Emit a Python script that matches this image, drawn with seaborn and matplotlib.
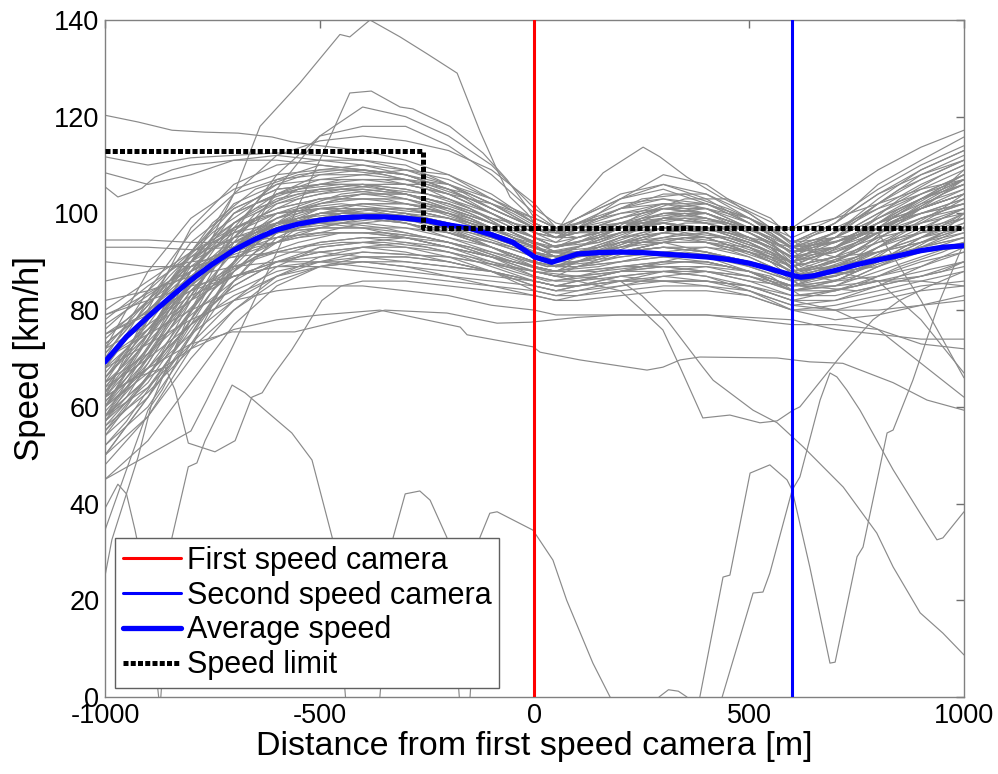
import pandas as pd
import seaborn as sns
import matplotlib
matplotlib.use('Agg')
import matplotlib.pyplot as plt

# ------------------------------------------------------------------------
# speed profiles around a section-control stretch
# ------------------------------------------------------------------------

GRID = [-1000, -900, -800, -700, -600, -500, -400, -300, -200, -100, 0,
        50, 100, 200, 300, 400, 500, 600, 700, 800, 900, 1000]

# second sampling, offset so that the runs don't all bend at the same spots
GRID_B = [-1000, -950, -850, -750, -650, -550, -450, -350, -250, -150, -50,
          30, 150, 250, 350, 450, 550, 620, 750, 850, 950, 1000]

# runs sampled on GRID, top of the bundle
upper_runs = [
    [62, 80, 97, 106, 110, 111, 111, 110, 106, 101, 97, 96, 99, 104, 106, 103, 98, 93, 96, 101, 106, 110],
    [58, 72, 88, 100, 106, 109, 110, 109, 107, 103, 98, 96, 97, 101, 104, 104, 100, 94, 98, 104, 108, 112],
    [70, 84, 96, 104, 107, 108, 108, 107, 104, 100, 96, 95, 98, 102, 103, 101, 97, 92, 95, 99, 103, 106],
    [55, 66, 82, 97, 107, 110, 109, 108, 105, 101, 97, 95, 96, 99, 102, 102, 99, 95, 99, 105, 110, 114],
    [65, 78, 92, 102, 106, 107, 107, 106, 104, 102, 99, 97, 99, 103, 105, 102, 98, 93, 94, 98, 101, 104],
    [60, 75, 90, 100, 104, 106, 107, 107, 106, 103, 99, 97, 98, 100, 101, 100, 97, 92, 94, 97, 100, 103],
    [50, 62, 78, 94, 104, 108, 109, 108, 105, 100, 95, 93, 95, 98, 100, 99, 96, 91, 95, 102, 108, 111],
    [68, 82, 94, 101, 105, 106, 106, 104, 101, 98, 95, 94, 97, 103, 108, 106, 100, 94, 97, 101, 104, 108],
    [72, 88, 99, 105, 108, 109, 109, 108, 106, 102, 97, 95, 95, 97, 99, 98, 95, 90, 92, 96, 100, 102],
    [57, 70, 86, 98, 104, 107, 108, 109, 108, 104, 98, 96, 97, 98, 98, 96, 93, 89, 93, 99, 104, 107],
    [111.7, 110, 111.5, 112, 112.5, 112, 111, 109, 106, 102, 97, 95, 96, 98, 99, 98, 95, 91, 93, 97, 101, 104],
    [108.4, 106, 108, 111, 112, 111, 110, 108, 105, 101, 97, 95, 97, 101, 103, 102, 98, 93, 96, 102, 107, 111],
    [50, 58, 72, 90, 105, 116, 122, 120, 116, 110, 101, 98, 97, 99, 101, 100, 97, 93, 95, 99, 103, 106],
    [58, 66, 80, 96, 108, 116, 118, 118, 114, 108, 100, 97, 96, 97, 98, 97, 94, 90, 93, 98, 103, 107],
    [64, 75, 90, 104, 112, 115, 116, 115, 113, 109, 102, 97, 99, 103, 106, 104, 99, 94, 98, 104, 109, 113],
    [66, 78, 92, 101, 105, 106, 106, 105, 103, 100, 96, 95, 96, 98, 98, 97, 97, 97, 103, 109, 113.7, 117.2],
    [63, 74, 88, 98, 103, 105, 106, 106, 104, 100, 96, 94, 95, 97, 98, 97, 95, 93, 98, 106, 111, 115.8],
]

# middle of the bundle
middle_runs = [
    [66, 76, 87, 94, 98, 100, 101, 101, 99, 96, 92, 90, 92, 95, 96, 95, 92, 88, 90, 94, 98, 101],
    [60, 70, 82, 92, 98, 101, 102, 101, 99, 96, 93, 91, 92, 94, 94, 92, 89, 86, 89, 93, 96, 99],
    [74, 82, 90, 95, 98, 99, 99, 98, 96, 94, 91, 90, 91, 93, 95, 96, 94, 90, 88, 89, 92, 95],
    [55, 64, 76, 88, 96, 100, 101, 100, 97, 93, 89, 88, 90, 94, 97, 97, 94, 89, 91, 96, 101, 105],
    [78, 85, 91, 95, 97, 98, 98, 97, 95, 93, 90, 89, 89, 90, 91, 91, 89, 86, 87, 90, 93, 96],
    [63, 72, 84, 93, 99, 102, 103, 103, 101, 98, 94, 92, 93, 96, 99, 99, 96, 91, 90, 92, 95, 98],
    [70, 78, 87, 94, 99, 101, 101, 99, 96, 93, 90, 89, 90, 92, 93, 92, 90, 87, 90, 95, 99, 102],
    [52, 60, 73, 86, 95, 99, 101, 101, 100, 97, 93, 91, 91, 92, 93, 93, 91, 87, 89, 92, 94, 96],
    [80, 86, 92, 96, 98, 98, 97, 95, 93, 91, 89, 88, 90, 93, 96, 97, 95, 91, 92, 95, 97, 99],
    [67, 77, 89, 96, 100, 101, 100, 98, 95, 92, 89, 88, 89, 91, 92, 91, 88, 84, 86, 90, 95, 100],
    [58, 68, 80, 90, 97, 100, 102, 102, 101, 98, 95, 93, 94, 96, 97, 95, 92, 88, 89, 91, 93, 95],
    [73, 80, 88, 93, 96, 97, 97, 97, 96, 94, 92, 91, 93, 96, 98, 96, 93, 89, 91, 96, 102, 107],
    [62, 74, 86, 94, 98, 99, 99, 98, 96, 93, 90, 89, 91, 95, 99, 100, 97, 92, 93, 96, 98, 100],
    [76, 84, 92, 97, 100, 101, 101, 100, 98, 95, 92, 90, 90, 91, 92, 93, 92, 89, 91, 94, 96, 97],
    [64, 75, 88, 97, 101, 103, 104, 104, 102, 98, 94, 92, 92, 93, 94, 94, 92, 88, 86, 87, 89, 92],
    [59, 69, 83, 95, 102, 105, 106, 105, 103, 99, 95, 93, 94, 97, 100, 100, 97, 92, 93, 97, 100, 103],
    [69, 79, 90, 97, 101, 103, 103, 102, 100, 97, 93, 91, 92, 95, 97, 96, 93, 88, 91, 97, 103, 108],
    [54, 62, 75, 89, 98, 102, 104, 104, 102, 99, 95, 93, 94, 98, 101, 101, 98, 93, 94, 98, 101, 104],
    [77, 83, 89, 93, 96, 97, 97, 96, 94, 91, 88, 87, 89, 92, 94, 94, 91, 87, 89, 93, 97, 101],
    [61, 71, 84, 93, 98, 100, 100, 99, 97, 95, 92, 91, 93, 97, 101, 102, 99, 93, 91, 92, 94, 97],
    [71, 81, 91, 98, 102, 104, 105, 104, 101, 97, 93, 92, 93, 96, 98, 97, 94, 90, 92, 96, 99, 101],
    [57, 65, 78, 90, 97, 101, 102, 102, 100, 96, 91, 89, 90, 92, 94, 94, 93, 90, 93, 98, 103, 108],
    [68, 76, 85, 92, 96, 98, 99, 98, 96, 93, 90, 89, 89, 90, 91, 90, 88, 85, 88, 93, 98, 103],
    [90, 89, 89, 91, 94, 97, 99, 100, 99, 97, 94, 93, 94, 97, 100, 101, 99, 94, 95, 100, 104, 108],
    [93, 93, 92.5, 93, 94, 96, 98, 99, 98, 96, 93, 91, 91, 92, 93, 92, 90, 87, 88, 92, 95, 97],
]

# bottom of the bundle
lower_runs = [
    [70, 76, 82, 87, 90, 92, 93, 93, 92, 90, 88, 87, 87, 88, 89, 89, 87, 84, 85, 88, 91, 94],
    [60, 67, 75, 82, 87, 90, 91, 91, 90, 88, 86, 85, 86, 88, 89, 88, 86, 83, 84, 86, 88, 90],
    [75, 79, 84, 89, 92, 94, 95, 94, 92, 89, 86, 85, 85, 87, 88, 88, 87, 85, 87, 90, 92, 93],
    [56, 63, 72, 80, 86, 89, 90, 90, 89, 88, 86, 85, 85, 86, 86, 86, 85, 82, 82, 84, 86, 88],
    [82, 84, 87, 89, 90, 90, 89, 88, 87, 86, 85, 84, 85, 87, 88, 87, 84, 80, 80, 82, 84, 85],
    [65, 71, 79, 86, 91, 94, 95, 95, 93, 90, 87, 86, 86, 87, 86, 85, 83, 80, 81, 83, 85, 86],
    [86, 88, 90, 91, 92, 92, 91, 90, 89, 88, 86, 85, 86, 88, 90, 90, 88, 84, 85, 89, 93, 97],
    [48, 58, 70, 80, 87, 91, 93, 94, 93, 91, 88, 87, 87, 88, 88, 87, 85, 82, 84, 87, 90, 92],
    [72, 77, 83, 87, 89, 89, 88, 87, 86, 85, 84, 83, 84, 86, 88, 89, 88, 85, 86, 90, 95, 99],
    [62, 68, 77, 85, 90, 93, 94, 93, 91, 88, 84, 83, 83, 84, 85, 85, 84, 81, 82, 85, 89, 93],
    [58, 64, 73, 82, 89, 93, 94, 95, 94, 91, 87, 86, 87, 89, 90, 90, 88, 84, 84, 86, 87, 89],
    [79, 82, 85, 87, 89, 90, 90, 89, 88, 87, 86, 85, 85, 86, 86, 86, 85, 83, 83, 85, 87, 90],
    [64, 70, 77, 83, 87, 89, 90, 89, 87, 85, 83, 82, 83, 85, 87, 88, 87, 84, 86, 90, 94, 97],
    [45, 53, 65, 77, 85, 89, 91, 91, 90, 88, 85, 84, 85, 86, 87, 86, 84, 81, 80, 80, 81, 83],
    [94.5, 94.5, 94, 94, 95, 96, 96, 95, 93, 91, 89, 88, 88, 89, 90, 90, 88, 85, 85, 86, 86, 85],
    [68, 73, 78, 82, 84, 85, 85, 84, 83, 81, 80, 79, 79, 79, 79, 79, 78, 77, 77, 76, 73, 72],
    [73, 80, 87, 92, 95, 96, 96, 95, 93, 91, 89, 88, 88, 89, 89, 88, 86, 85, 88, 86, 78, 67],
    [66, 75, 85, 93, 98, 100, 101, 100, 98, 95, 92, 91, 92, 94, 95, 94, 92, 90, 95, 96, 82, 66],
    [60, 68, 77, 85, 90, 92, 93, 92, 90, 88, 85, 84, 84, 85, 86, 86, 85, 82, 80, 76, 69, 62],
]

# runs sampled on GRID_B
offset_runs = [
    [63, 70, 86, 98, 105, 108, 109, 108, 106, 103, 99, 96, 99, 103, 104, 101, 97, 92, 99, 105, 109, 111],
    [57, 62, 76, 90, 100, 105, 107, 107, 105, 101, 96, 93, 95, 99, 100, 98, 94, 89, 95, 101, 105, 107],
    [71, 76, 86, 94, 99, 101, 102, 101, 100, 98, 95, 92, 94, 98, 100, 98, 94, 88, 92, 99, 104, 106],
    [52, 57, 70, 84, 95, 101, 104, 105, 104, 101, 96, 92, 91, 93, 95, 94, 91, 86, 88, 94, 99, 101],
    [66, 71, 81, 90, 96, 99, 100, 100, 99, 97, 94, 91, 92, 95, 97, 96, 93, 88, 90, 96, 101, 104],
    [60, 66, 79, 91, 99, 103, 105, 106, 106, 104, 100, 96, 96, 98, 99, 97, 93, 87, 91, 98, 104, 107],
    [75, 78, 85, 91, 95, 97, 98, 97, 95, 93, 90, 88, 89, 91, 92, 91, 89, 86, 89, 94, 98, 100],
    [54, 60, 73, 86, 94, 98, 100, 100, 98, 95, 91, 89, 90, 93, 95, 95, 92, 87, 88, 92, 96, 98],
    [68, 74, 85, 95, 101, 104, 105, 104, 102, 99, 95, 93, 94, 97, 99, 98, 96, 91, 96, 103, 108, 110],
    [61, 66, 76, 85, 91, 94, 96, 96, 95, 93, 90, 88, 88, 89, 90, 89, 87, 83, 85, 89, 92, 94],
    [79, 81, 86, 90, 93, 95, 96, 96, 95, 93, 91, 89, 91, 94, 96, 95, 92, 87, 88, 91, 93, 94],
    [58, 64, 77, 89, 97, 101, 103, 103, 101, 98, 94, 92, 93, 96, 98, 98, 95, 90, 94, 100, 105, 109],
    [65, 69, 78, 86, 91, 93, 94, 94, 93, 91, 88, 86, 87, 89, 91, 91, 89, 85, 87, 91, 96, 100],
    [50, 56, 68, 81, 91, 97, 100, 101, 101, 99, 95, 92, 92, 95, 97, 96, 93, 88, 92, 99, 104, 106],
    [72, 77, 87, 96, 102, 105, 106, 105, 103, 100, 96, 93, 95, 100, 103, 103, 99, 93, 95, 99, 101, 102],
    [56, 61, 72, 84, 92, 96, 98, 99, 98, 96, 93, 91, 92, 94, 95, 93, 90, 85, 84, 86, 88, 90],
]

# runs with their own sample positions (outliers)
peak_x = [-1000, -900, -800, -700, -639, -546, -453, -430, -383, -313, -250, -180, -127, -87,
          -57, -17, 0, 50, 100, 200, 300, 400, 500, 600, 700, 800, 900, 1000]
peak_kmh = [62, 72, 86, 104, 118, 127, 137, 136.5, 140, 136.5, 133, 129, 117, 109,
            103.4, 100, 98, 96, 95, 97, 99, 98, 95, 91, 93, 97, 101, 104]

fast_x = [-1000, -900, -800, -763, -700, -600, -500, -430, -380, -313, -283, -197, -120, -64,
          -17, 0, 50, 100, 200, 300, 400, 500, 600, 700, 800, 900, 1000]
fast_kmh = [45, 50, 55, 61.4, 73, 92, 111, 124.9, 125.3, 122, 121.6, 118, 112.5, 107,
            101.3, 99, 97, 97, 100, 102, 101, 97, 92, 94, 98, 102, 105]

high_start_x = [-1000, -923, -844, -767, -690, -611, -565, -500, -400, -300, -200, -100,
                0, 50, 100, 200, 300, 400, 500, 600, 700, 800, 900, 1000]
high_start_kmh = [120.3, 118.9, 117.2, 116.8, 116.6, 115.8, 114.8, 114, 113, 111, 108, 103,
                  98, 96, 98, 101, 102, 100, 96, 92, 95, 100, 105, 109]

dip_start_x = [-1000, -970, -937, -914, -884, -844, -800, -700, -600, -500, -400, -300, -200,
               -100, 0, 50, 100, 200, 300, 400, 500, 600, 700, 800, 900, 1000]
dip_start_kmh = [105.5, 103.4, 104.4, 105.2, 107.5, 109, 110, 111, 111, 110, 109, 107, 104,
                 100, 96, 95, 96, 99, 101, 100, 97, 92, 96, 103, 109, 113]

between_peak_x = [-1000, -900, -800, -700, -600, -500, -400, -300, -200, -100, 0, 50, 90, 160,
                  253, 292, 355, 432, 509, 588, 700, 800, 900, 1000]
between_peak_kmh = [60, 74, 90, 100, 104, 105, 105, 104, 102, 99, 97, 96, 101.3, 108.4,
                    113.7, 111.7, 107.5, 103.4, 100, 96.6, 99, 102, 105, 107]

climb_a_x = [-1000, -950, -900, -867, -800, -700, -600, -500, -400, -300, -200, -100, 0, 50,
             100, 200, 300, 400, 500, 600, 700, 800, 900, 1000]
climb_a_kmh = [34.5, 47, 59.3, 63.5, 75, 88, 96, 99, 100, 99, 97, 94, 91, 89,
               90, 92, 93, 92, 90, 86, 87, 90, 93, 95]

climb_b_x = [-1000, -984, -923, -891, -800, -700, -600, -500, -400, -300, -200, -100, 0, 50,
             100, 200, 300, 400, 500, 600, 700, 800, 900, 1000]
climb_b_kmh = [25, 32.5, 49.6, 60.8, 80, 93, 100, 103, 104, 103, 100, 96, 92, 90,
               91, 94, 96, 95, 92, 88, 90, 95, 99, 102]

slowdown_x = [-1000, -930, -860, -837, -806, -744, -697, -658, -634, -611, -565, -541, -495,
              -450, -400, -300, -200, -100, 0, 50, 100, 200, 300, 400, 500, 600, 700, 800,
              900, 1000]
slowdown_kmh = [62, 66, 68.2, 63.5, 52.5, 50.7, 53, 62, 62.9, 66.2, 71.8, 75.2, 82,
                85, 86, 86, 85, 84, 83, 82, 82, 83, 84, 84, 83, 80, 78, 79, 81, 82]

slow_a_x = [-1000, -900, -800, -700, -600, -500, -360, -173, -157, -3, 13, 106, 262, 299,
            339, 385, 565, 641, 718, 835, 914, 1000]
slow_a_kmh = [58, 66, 72, 76, 78, 79, 80, 76.5, 74.9, 72.4, 71.3, 69.7, 67.6, 68.2,
              69.7, 70.3, 70.1, 69.3, 69, 65, 61.4, 59.3]

slow_b_x = [-1000, -900, -800, -704, -558, -348, -204, -87, -10, 100, 200, 300, 400, 500,
            600, 700, 800, 900, 1000]
slow_b_kmh = [62, 68, 73, 75.5, 75.5, 80, 79.4, 77.3, 77.5, 78.5, 79, 79, 79, 78.5,
              78, 76, 75, 74, 74]

sag_x = [-1000, -800, -600, -400, -200, 0, 100, 200, 250, 299, 339, 392, 455, 525, 565,
         602, 618, 711, 788, 850, 920, 1000]
sag_kmh = [70, 80, 88, 92, 91, 88, 86, 84, 80, 75.9, 68.2, 57.7, 58.3, 56.7, 57.1,
           59.3, 60, 70.3, 78, 82, 85, 88]

decline_x = [-1000, -800, -600, -400, -200, 0, 100, 200, 250, 308, 392, 416, 509, 565, 626,
             719, 797, 835, 898, 951, 1000]
decline_kmh = [75, 84, 90, 92, 91, 88, 87, 86, 83, 78, 68.2, 65.5, 59.3, 56.7, 51.7,
               43.4, 33.9, 26.9, 17.4, 13.2, 8.7]

hump_a_x = [-1000, -970, -950, -930, -915, -890, -875]
hump_a_kmh = [39, 44, 42, 34.5, 28, 12, 0]

hump_b_x = [-870, -844, -806, -786, -767, -704, -674, -627, -565, -518, -471, -440]
hump_b_kmh = [0, 33, 47.6, 48.4, 53, 64.5, 62.9, 59.3, 54.6, 49, 33, 0]

hump_c_x = [-360, -329, -301, -267, -243, -204, -175]
hump_c_kmh = [0, 33, 42, 42.6, 40.7, 33, 0]

hump_d_x = [-150, -127, -104, -87, -3.5, 43, 75, 136, 176]
hump_d_kmh = [0, 33, 38, 38.3, 34.5, 28.3, 20, 7, 0]

crawl_x = [290, 312, 335, 355]
crawl_kmh = [0, 1.5, 1.2, 0]

v_dip_x = [385, 439, 455, 502, 548, 588, 600, 641, 688, 700, 751, 765, 821, 835, 881, 944, 1000]
v_dip_kmh = [0, 24.8, 25.2, 46.3, 48, 44.9, 42.8, 26.9, 7, 7.2, 29, 31, 54.6, 55.2, 65.5, 82, 94]

late_start_x = [437, 509, 532, 548, 600, 618, 665, 688, 704, 727, 758, 835, 898, 937, 951, 1000]
late_start_kmh = [0, 21.5, 21.7, 25.6, 42.8, 45.5, 61.4, 67, 66.2, 63.5, 59.3, 47, 38, 32.5,
                  32.9, 38.3]

# average over all runs
avg_x = [-1000, -950, -900, -850, -800, -750, -700, -650, -600, -550, -500, -450, -400, -350,
         -300, -250, -200, -150, -100, -50, 0, 40, 100, 150, 200, 250, 300, 350, 400, 450,
         500, 550, 600, 620, 650, 700, 750, 800, 850, 900, 950, 1000]
avg_kmh = [69.3, 74.5, 78.6, 82.5, 86.2, 89.5, 92.4, 94.7, 96.6, 97.8, 98.6, 99.1, 99.3, 99.3,
           99, 98.5, 97.6, 96.9, 95.6, 94, 91, 89.9, 91.6, 91.9, 92, 91.9, 91.6, 91.3, 91, 90.5,
           89.7, 88.5, 87.2, 86.8, 87.1, 88.2, 89.4, 90.4, 91.3, 92.3, 93, 93.3]

limit_x = [-1000, -260, 1000]
limit_kmh = [113, 97, 97]

first_camera = 0
second_camera = 600


# ------------------------------------------ #
#              build long table              #
# ------------------------------------------ #

runs = [(GRID, y) for y in upper_runs + middle_runs + lower_runs]
runs += [(GRID_B, y) for y in offset_runs]
runs += [
    (peak_x, peak_kmh), (fast_x, fast_kmh), (high_start_x, high_start_kmh),
    (dip_start_x, dip_start_kmh), (between_peak_x, between_peak_kmh),
    (climb_a_x, climb_a_kmh), (climb_b_x, climb_b_kmh), (slowdown_x, slowdown_kmh),
    (slow_a_x, slow_a_kmh), (slow_b_x, slow_b_kmh), (sag_x, sag_kmh),
    (decline_x, decline_kmh), (hump_a_x, hump_a_kmh), (hump_b_x, hump_b_kmh),
    (hump_c_x, hump_c_kmh), (hump_d_x, hump_d_kmh), (crawl_x, crawl_kmh),
    (v_dip_x, v_dip_kmh), (late_start_x, late_start_kmh),
]
traces = pd.concat(
    [pd.DataFrame({'run': i, 'distance': x, 'speed': y}) for i, (x, y) in enumerate(runs)],
    ignore_index=True,
)


# ------------------------------------------ #
#                    plot                    #
# ------------------------------------------ #

sns.set_style('white')
plt.rcParams['font.family'] = ['Liberation Sans', 'DejaVu Sans']
plt.rcParams['axes.unicode_minus'] = False
plt.rcParams['text.color'] = 'black'
plt.rcParams['axes.labelcolor'] = 'black'

fig = plt.figure(figsize=(9.98, 7.74), dpi=100)
ax = fig.add_axes([0.1052, 0.0995, 0.8607, 0.8747])

sns.lineplot(data=traces, x='distance', y='speed', units='run', estimator=None,
             color='#8a8a8a', lw=0.85, legend=False, ax=ax, zorder=2)

h_first = ax.axvline(first_camera, color='#ff0000', lw=2.2, zorder=3)
h_second = ax.axvline(second_camera, color='#0000ff', lw=2.2, zorder=3)

sns.lineplot(x=avg_x, y=avg_kmh, color='#0000ff', lw=3.8, ax=ax, zorder=4)
h_avg = ax.lines[-1]

sns.lineplot(x=limit_x, y=limit_kmh, color='black', lw=3.6, drawstyle='steps-post',
             ax=ax, zorder=5)
h_limit = ax.lines[-1]
h_limit.set_dashes((1.0, 0.45))

ax.set_xlim(-1000, 1000)
ax.set_ylim(0, 140)
ax.set_xticks([-1000, -500, 0, 500, 1000])
ax.set_yticks(range(0, 141, 20))
ax.tick_params(direction='in', top=True, right=True, length=6, width=1,
               color='#707070', labelsize=19.5, labelcolor='black', pad=4)
for spine in ax.spines.values():
    spine.set_color('#808080')
    spine.set_linewidth(1)

ax.set_xlabel('Distance from first speed camera [m]', fontsize=24.5, labelpad=1.5,
              color='black')
ax.set_ylabel('Speed [km/h]', fontsize=25, labelpad=6, color='black')

leg = ax.legend(
    [h_first, h_second, h_avg, h_limit],
    ['First speed camera', 'Second speed camera', 'Average speed', 'Speed limit'],
    loc='lower left', bbox_to_anchor=(0.0116, 0.0133), borderaxespad=0,
    fontsize=22, frameon=True, fancybox=False, framealpha=1,
    edgecolor='#606060', handlelength=1.9, handletextpad=0.2,
    borderpad=0.25, labelspacing=0.16,
)
leg.get_frame().set_linewidth(1)
leg.set_zorder(10)
for text in leg.get_texts():
    text.set_color('black')

fig.savefig('out.png', dpi=100)
